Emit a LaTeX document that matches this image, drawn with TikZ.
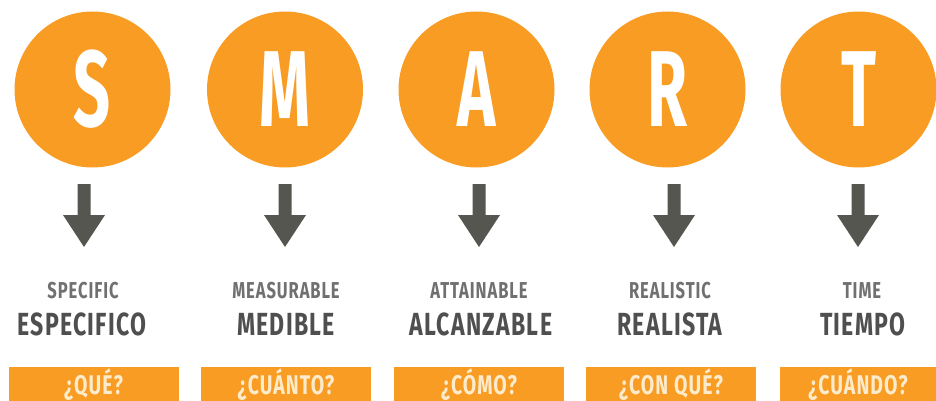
\documentclass[tikz,border=0pt]{standalone}
\usepackage{fontspec}
\newfontfamily\bigfont[FakeStretch=0.6]{Fira Sans}
\newfontfamily\labfont[FakeStretch=0.72,LetterSpace=4]{Fira Sans}
\definecolor{smartorange}{HTML}{F89C24}
\definecolor{smartgray}{HTML}{55564F}
\definecolor{smartcream}{HTML}{FDEBCB}
\definecolor{entextgray}{HTML}{707070}
\definecolor{estextgray}{HTML}{4F4F4F}

\begin{document}
\begin{tikzpicture}[x=1pt,y=-1pt]
\tikzstyle{every node}+=[inner sep=0pt]
\tikzstyle{letterdot}=[circle,fill=smartorange,minimum size=156pt,text=white,font=\bigfont\bfseries\fontsize{108}{108}\selectfont]
\tikzstyle{entext}=[anchor=base,text=entextgray,font=\labfont\bfseries\fontsize{23}{23}\selectfont]
\tikzstyle{estext}=[anchor=base,text=estextgray,font=\labfont\bfseries\fontsize{32}{32}\selectfont]
\tikzstyle{tab}=[fill=smartorange,minimum width=170pt,minimum height=34pt,text height=20pt,text depth=0pt,text=smartcream,font=\labfont\bfseries\fontsize{27}{27}\selectfont]
\tikzstyle{downarrow}=[fill=smartgray]
\useasboundingbox (0,0) rectangle (936,401);
\node[letterdot] (s) at (92.5,89.5) {S};
\node[letterdot] (m) at (285,89.5) {M};
\node[letterdot] (a) at (476.5,89.5) {A};
\node[letterdot] (r) at (667.5,89.5) {R};
\node[letterdot] (t) at (858.5,89.5) {T};
\fill[downarrow,shift={(84,0)}] (-6.5,184) -- (6.5,184) -- (6.5,215) -- (21,215) -- (0,247) -- (-21,215) -- (-6.5,215) -- cycle;
\fill[downarrow,shift={(285,0)}] (-6.5,184) -- (6.5,184) -- (6.5,215) -- (21,215) -- (0,247) -- (-21,215) -- (-6.5,215) -- cycle;
\fill[downarrow,shift={(479,0)}] (-6.5,184) -- (6.5,184) -- (6.5,215) -- (21,215) -- (0,247) -- (-21,215) -- (-6.5,215) -- cycle;
\fill[downarrow,shift={(674,0)}] (-6.5,184) -- (6.5,184) -- (6.5,215) -- (21,215) -- (0,247) -- (-21,215) -- (-6.5,215) -- cycle;
\fill[downarrow,shift={(858,0)}] (-6.5,184) -- (6.5,184) -- (6.5,215) -- (21,215) -- (0,247) -- (-21,215) -- (-6.5,215) -- cycle;
\node[entext] (specific) at (83,298) {SPECIFIC};
\node[estext] (especifico) at (82,335) {ESPECIFICO};
\node[entext] (measurable) at (286,298) {MEASURABLE};
\node[estext] (medible) at (286,335) {MEDIBLE};
\node[entext] (attainable) at (479,298) {ATTAINABLE};
\node[estext] (alcanzable) at (481,335) {ALCANZABLE};
\node[entext] (realistic) at (670,298) {REALISTIC};
\node[estext] (realista) at (670,335) {REALISTA};
\node[entext] (time) at (862,298) {TIME};
\node[estext] (tiempo) at (863,335) {TIEMPO};
\node[tab] (que) at (93.5,384) {¿QUÉ?};
\node[tab] (cuanto) at (286,384) {¿CUÁNTO?};
\node[tab] (como) at (479,384) {¿CÓMO?};
\node[tab] (conque) at (671,384) {¿CON QUÉ?};
\node[tab,minimum width=156pt] (cuando) at (858,384) {¿CUÁNDO?};
\end{tikzpicture}
\end{document}
